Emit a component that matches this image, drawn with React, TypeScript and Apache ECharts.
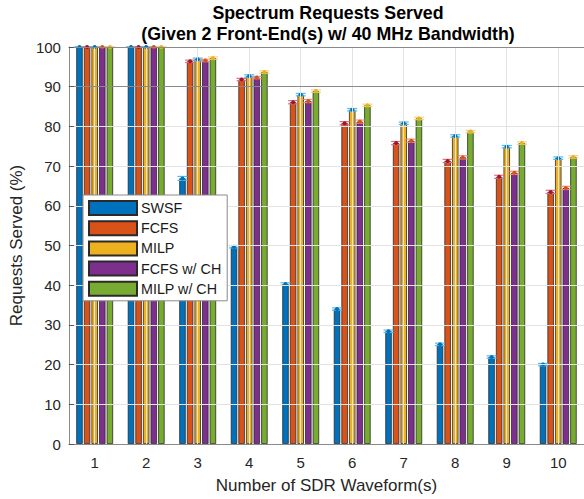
import React, { useEffect, useRef } from "react";
import * as echarts from "echarts";

const categories = ["1", "2", "3", "4", "5", "6", "7", "8", "9", "10"];
const seriesNames = ["SWSF", "FCFS", "MILP", "FCFS w/ CH", "MILP w/ CH"];
const swsf = [100, 100, 66.9, 49.7, 40.3, 34.0, 28.4, 25.1, 21.9, 20.0];
const fcfs = [100, 100, 96.4, 91.8, 86.1, 80.8, 75.8, 71.3, 67.3, 63.5];
const milp = [100, 100, 96.9, 92.7, 88.0, 84.2, 80.8, 77.6, 74.9, 72.0];
const fcfsCh = [100, 100, 96.6, 92.3, 86.4, 81.2, 76.4, 72.2, 68.3, 64.5];
const milpCh = [100, 100, 97.2, 93.7, 88.9, 85.3, 82.0, 78.7, 75.8, 72.3];
const errSwsf = [0.0, 0.0, 0.5, 0.3, 0.3, 0.3, 0.3, 0.3, 0.3, 0.3];
const errFcfs = [0.0, 0.0, 0.3, 0.3, 0.4, 0.4, 0.4, 0.4, 0.4, 0.4];
const errMilp = [0.0, 0.0, 0.3, 0.3, 0.3, 0.3, 0.3, 0.3, 0.3, 0.3];
const errFcfsCh = [0.0, 0.0, 0.3, 0.3, 0.4, 0.4, 0.4, 0.4, 0.4, 0.4];
const errMilpCh = [0.0, 0.0, 0.3, 0.3, 0.3, 0.3, 0.3, 0.3, 0.3, 0.3];
const yTicks = { min: 0, max: 100, interval: 10 };
const refLine = 90;

const allValues = [swsf, fcfs, milp, fcfsCh, milpCh];
const allErrors = [errSwsf, errFcfs, errMilp, errFcfsCh, errMilpCh];
const barColors = ["#0072BD", "#D95319", "#EDB120", "#7E2F8E", "#77AC30"];
const capColors = ["#4DBEEE", "#E0707C", "#4DBEEE", "#F0907A", "#F3D37A"];
const dotColors = ["#0072BD", "#A2142F", "#0072BD", "#D95319", "#EDB120"];

const BAR_FRAC = 0.125;
const GAP_FRAC = 0.18;

export default function App() {
  const ref = useRef<HTMLDivElement>(null);
  useEffect(() => {
    if (!ref.current) return;
    const chart = echarts.init(ref.current, null, { renderer: "svg" });
    const font = "Liberation Sans, Arial, Helvetica, sans-serif";

    const barSeries = allValues.map((vals, i) => ({
      type: "bar",
      name: seriesNames[i],
      data: vals,
      barWidth: BAR_FRAC * 100 + "%",
      barGap: GAP_FRAC * 100 + "%",
      itemStyle: { color: barColors[i], borderColor: "#2a2a2a", borderWidth: 0.8 },
      z: 2,
    }));

    const errSeries = allValues.map((vals, i) => ({
      type: "custom",
      name: seriesNames[i] + " err",
      data: vals.map((v, j) => [j, v, allErrors[i][j]]),
      z: 4,
      silent: true,
      renderItem: (params: any, api: any) => {
        const c = api.value(0);
        const v = api.value(1);
        const e = api.value(2);
        const band = api.size([1, 0])[0];
        const off = (i - 2) * BAR_FRAC * (1 + GAP_FRAC) * band;
        const p = api.coord([c, v]);
        const hi = api.coord([c, v + e]);
        const lo = api.coord([c, v - e]);
        const x = p[0] + off;
        const hw = 5;
        return {
          type: "group",
          children: [
            { type: "line", shape: { x1: x, y1: hi[1], x2: x, y2: lo[1] }, style: { stroke: capColors[i], lineWidth: 1 } },
            { type: "line", shape: { x1: x - hw, y1: hi[1], x2: x + hw, y2: hi[1] }, style: { stroke: capColors[i], lineWidth: 1.2 } },
            { type: "line", shape: { x1: x - hw, y1: lo[1], x2: x + hw, y2: lo[1] }, style: { stroke: capColors[i], lineWidth: 1.2 } },
            { type: "circle", shape: { cx: x, cy: p[1], r: 2 }, style: { fill: dotColors[i] } },
          ],
        };
      },
    }));

    const gridSeries = {
      type: "line",
      name: "grid",
      data: [],
      z: 1,
      silent: true,
      markLine: {
        silent: true,
        symbol: "none",
        label: { show: false },
        animation: false,
        data: [
          ...categories.map((c) => ({ xAxis: c, lineStyle: { color: "#e3e3e3", width: 1, type: "solid" } })),
          { yAxis: refLine, lineStyle: { color: "#8a8a8a", width: 1.2, type: "solid" } },
        ],
      },
    };

    chart.setOption({
      animation: false,
      textStyle: { fontFamily: font },
      graphic: [
        {
          type: "text",
          x: 328,
          y: 2,
          style: {
            text: "Spectrum Requests Served\n(Given 2 Front-End(s) w/ 40 MHz Bandwidth)",
            font: "bold 17.8px " + font,
            fill: "#000",
            textAlign: "center",
            lineHeight: 21,
          },
        },
      ],
      legend: {
        orient: "vertical",
        left: 83,
        top: 195,
        data: seriesNames,
        itemWidth: 48,
        itemHeight: 14,
        itemGap: 4.2,
        padding: [5, 6, 4, 5],
        backgroundColor: "#fff",
        borderColor: "#8a8a8a",
        borderWidth: 1,
        borderRadius: 0,
        icon: "rect",
        textStyle: { fontSize: 14.3, color: "#1a1a1a", fontFamily: font, padding: [0, 0, 0, -1] },
        z: 10,
      },
      grid: { left: 68, top: 47, width: 520, height: 400, containLabel: false },
      xAxis: [
        {
          type: "category",
          data: categories,
          position: "bottom",
          z: 5,
          axisLine: { lineStyle: { color: "#8a8a8a", width: 1 } },
          axisTick: { inside: true, alignWithLabel: true, length: 5, lineStyle: { color: "#555" } },
          axisLabel: { fontSize: 15, color: "#262626", margin: 11, fontFamily: font },
          splitLine: { show: false },
          name: "Number of SDR Waveform(s)",
          nameLocation: "middle",
          nameGap: 33,
          nameTextStyle: { fontSize: 17, color: "#262626", fontFamily: font },
        },
        {
          type: "category",
          data: categories,
          position: "top",
          z: 5,
          axisLine: { lineStyle: { color: "#8a8a8a", width: 1 } },
          axisTick: { inside: true, alignWithLabel: true, length: 5, lineStyle: { color: "#555" } },
          axisLabel: { show: false },
        },
      ],
      yAxis: {
        type: "value",
        min: yTicks.min,
        max: yTicks.max,
        interval: yTicks.interval,
        z: 5,
        axisLine: { show: true, lineStyle: { color: "#8a8a8a", width: 1 } },
        axisTick: { show: true, inside: true, length: 5, lineStyle: { color: "#555" } },
        axisLabel: { fontSize: 15, color: "#262626", margin: 8, fontFamily: font },
        splitLine: { show: true, lineStyle: { color: "#e3e3e3", width: 1 } },
        name: "Requests Served (%)",
        nameLocation: "middle",
        nameRotate: 90,
        nameGap: 41,
        nameTextStyle: { fontSize: 17, color: "#262626", fontFamily: font },
      },
      series: [gridSeries, ...barSeries, ...errSeries],
    });
    return () => chart.dispose();
  }, []);
  return <div ref={ref} style={{ position: "fixed", left: 0, top: 0, width: 584, height: 499, background: "#fff" }} />;
}
